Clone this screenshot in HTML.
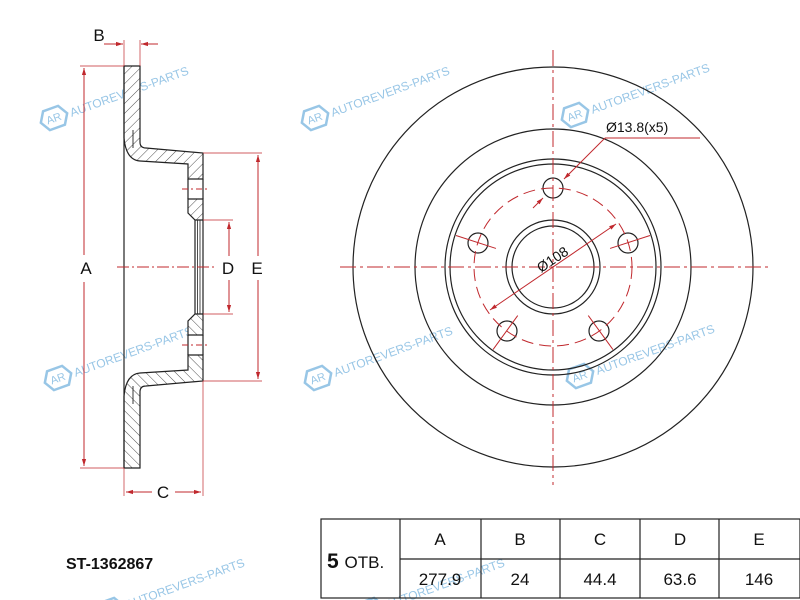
<!DOCTYPE html>
<html><head><meta charset="utf-8"><style>
html,body{margin:0;padding:0;background:#fff;}
svg{display:block;font-family:"Liberation Sans",Arial,sans-serif;}
</style></head><body>
<svg width="800" height="600" viewBox="0 0 800 600" xmlns="http://www.w3.org/2000/svg">
<defs>
<pattern id="h" width="7" height="7" patternUnits="userSpaceOnUse" patternTransform="rotate(45)">
<rect width="7" height="7" fill="#fff"/><line x1="0" y1="0" x2="0" y2="7" stroke="#222" stroke-width="0.8"/>
</pattern>
<marker id="ar" viewBox="0 0 10 10" refX="10" refY="5" markerWidth="7" markerHeight="7" orient="auto-start-reverse"><path d="M0,2 L10,5 L0,8 z" fill="#c0282d"/></marker>
<g id="wm">
<path d="M-8,-10 L8,-10 L14,0 L8,10 L-8,10 L-14,0 Z" fill="none" stroke="#7fb8e0" stroke-width="2.5"/>
<text x="-8" y="4" font-size="11" fill="#7fb8e0">AR</text>
<text x="17" y="5" font-size="12" fill="#7fb8e0">AUTOREVERS-PARTS</text>
</g>
<g id="sec">
<path d="M124,66 L140,66 L140,142 Q140,148 146,148 L203,153 L203,179 L188,179 L188,164 L140,161 Q126,160 124,138 Z" stroke="#222" stroke-width="1.2" fill="url(#h)"/>
<path d="M188,199 L203,199 L203,220 L195,220 L188,213 Z" stroke="#222" stroke-width="1.2" fill="url(#h)"/>
<line x1="188" y1="179" x2="188" y2="199" stroke="#222" stroke-width="1.2"/>
<line x1="203" y1="179" x2="203" y2="199" stroke="#222" stroke-width="1.2"/>
<line x1="133" y1="130" x2="133" y2="148" stroke="#222" stroke-width="0.9"/>
</g>
</defs>

<!-- watermarks -->
<g opacity="0.8">
<use href="#wm" transform="translate(54,118) rotate(-20)"/>
<use href="#wm" transform="translate(315,118) rotate(-20)"/>
<use href="#wm" transform="translate(575,115) rotate(-20)"/>
<use href="#wm" transform="translate(58,378) rotate(-20)"/>
<use href="#wm" transform="translate(318,378) rotate(-20)"/>
<use href="#wm" transform="translate(580,376) rotate(-20)"/>
<use href="#wm" transform="translate(110,610) rotate(-20)"/>
<use href="#wm" transform="translate(370,610) rotate(-20)"/>
</g>

<!-- section view -->
<use href="#sec"/>
<use href="#sec" transform="translate(0,534) scale(1,-1)"/>
<g stroke="#222" stroke-width="1.2" fill="none">
<line x1="124" y1="66" x2="124" y2="468"/>
<line x1="195" y1="220" x2="195" y2="314"/>
<line x1="197.5" y1="220" x2="197.5" y2="314" stroke-width="0.8"/>
<line x1="200" y1="220" x2="200" y2="314" stroke-width="0.8"/>
<line x1="203" y1="220" x2="203" y2="314"/>
</g>
<!-- section dims -->
<g stroke="#c0282d" stroke-width="1" fill="none">
<line x1="117" y1="267" x2="214" y2="267" stroke-dasharray="12,3,2,3"/>
<line x1="182" y1="189" x2="210" y2="189" stroke-dasharray="6,3,2,3"/>
<line x1="182" y1="345" x2="210" y2="345" stroke-dasharray="6,3,2,3"/>
<line x1="80" y1="66" x2="124" y2="66" stroke-width="0.7"/>
<line x1="80" y1="468" x2="124" y2="468" stroke-width="0.7"/>
<line x1="84" y1="68" x2="84" y2="255" marker-start="url(#ar)"/>
<line x1="84" y1="282" x2="84" y2="466" marker-end="url(#ar)"/>
<line x1="124" y1="40" x2="124" y2="66" stroke-width="0.7"/>
<line x1="140" y1="40" x2="140" y2="66" stroke-width="0.7"/>
<line x1="104" y1="44" x2="123" y2="44" marker-end="url(#ar)"/>
<line x1="158" y1="44" x2="141" y2="44" marker-end="url(#ar)"/>
<line x1="124" y1="468" x2="124" y2="496" stroke-width="0.7"/>
<line x1="203" y1="381" x2="203" y2="496" stroke-width="0.7"/>
<line x1="126" y1="492" x2="152" y2="492" marker-start="url(#ar)"/>
<line x1="175" y1="492" x2="201" y2="492" marker-end="url(#ar)"/>
<line x1="203" y1="220" x2="233" y2="220" stroke-width="0.7"/>
<line x1="203" y1="314" x2="233" y2="314" stroke-width="0.7"/>
<line x1="229" y1="222" x2="229" y2="256" marker-start="url(#ar)"/>
<line x1="229" y1="280" x2="229" y2="312" marker-end="url(#ar)"/>
<line x1="203" y1="153" x2="262" y2="153" stroke-width="0.7"/>
<line x1="203" y1="381" x2="262" y2="381" stroke-width="0.7"/>
<line x1="258" y1="155" x2="258" y2="256" marker-start="url(#ar)"/>
<line x1="258" y1="280" x2="258" y2="379" marker-end="url(#ar)"/>
</g>
<g font-size="17" fill="#111" text-anchor="middle">
<text x="86" y="274">A</text>
<text x="99" y="41">B</text>
<text x="163" y="498">C</text>
<text x="228" y="274">D</text>
<text x="257" y="274">E</text>
</g>

<!-- front view -->
<g stroke="#222" stroke-width="1.2" fill="none">
<circle cx="553" cy="267" r="200"/>
<circle cx="553" cy="267" r="138"/>
<circle cx="553" cy="267" r="108"/>
<circle cx="553" cy="267" r="103"/>
<circle cx="553" cy="267" r="47"/>
<circle cx="553" cy="267" r="41"/>
<circle cx="553" cy="188" r="10"/>
<circle cx="628" cy="243" r="10"/>
<circle cx="478" cy="243" r="10"/>
<circle cx="599" cy="331" r="10"/>
<circle cx="507" cy="331" r="10"/>
</g>
<g stroke="#c0282d" stroke-width="1" fill="none">
<line x1="340" y1="267" x2="770" y2="267" stroke-dasharray="16,4,3,4"/>
<line x1="553" y1="50" x2="553" y2="485" stroke-dasharray="16,4,3,4"/>
<circle cx="553" cy="267" r="79" stroke-dasharray="12,6"/>
<g>
<line x1="553" y1="207" x2="553" y2="165" transform="rotate(72 553 267)"/>
<line x1="553" y1="207" x2="553" y2="165" transform="rotate(-72 553 267)"/>
<line x1="553" y1="207" x2="553" y2="165" transform="rotate(144 553 267)"/>
<line x1="553" y1="207" x2="553" y2="165" transform="rotate(-144 553 267)"/>
</g>
<line x1="700" y1="138" x2="605" y2="138"/>
<line x1="605" y1="138" x2="564" y2="179" marker-end="url(#ar)"/>
<line x1="533" y1="208" x2="543" y2="198" marker-end="url(#ar)"/>
<line x1="490" y1="310" x2="616" y2="224" marker-start="url(#ar)" marker-end="url(#ar)"/>
</g>
<text x="606" y="132" font-size="14" fill="#111">Ø13.8(x5)</text>
<text x="0" y="0" font-size="14" fill="#111" transform="translate(541,273) rotate(-34)">Ø108</text>

<!-- table -->
<text x="66" y="569" font-size="16" font-weight="bold" fill="#111">ST-1362867</text>
<g stroke="#222" stroke-width="1.2" fill="none">
<rect x="321" y="519" width="479" height="79"/>
<line x1="400" y1="559" x2="800" y2="559"/>
<line x1="400" y1="519" x2="400" y2="598"/>
<line x1="481" y1="519" x2="481" y2="598"/>
<line x1="560" y1="519" x2="560" y2="598"/>
<line x1="640" y1="519" x2="640" y2="598"/>
<line x1="719" y1="519" x2="719" y2="598"/>
</g>
<text x="327" y="568" font-size="21" font-weight="bold" fill="#111">5 <tspan font-size="17" font-weight="normal">ОТВ.</tspan></text>
<g font-size="17" fill="#111" text-anchor="middle">
<text x="440" y="545">A</text><text x="520" y="545">B</text><text x="600" y="545">C</text><text x="680" y="545">D</text><text x="759" y="545">E</text>
<text x="440" y="585">277.9</text><text x="520" y="585">24</text><text x="600" y="585">44.4</text><text x="680" y="585">63.6</text><text x="759" y="585">146</text>
</g>
</svg>
</body></html>
